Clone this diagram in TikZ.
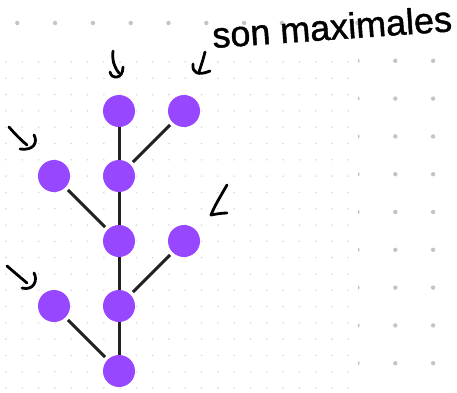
\documentclass[tikz,border=0pt]{standalone}
\usepackage{fontspec}
\setmainfont{Liberation Sans}
\definecolor{nodepurple}{HTML}{9747FF}
\definecolor{edgegray}{HTML}{222222}
\definecolor{dotbig}{HTML}{C4C4C4}
\definecolor{dotsmall}{HTML}{DADADA}
\begin{document}
\begin{tikzpicture}[x=1pt,y=-1pt,
  vert/.style={circle,fill=nodepurple,minimum size=32pt,inner sep=0pt},
  edge/.style={line width=3pt,draw=edgegray},
  slant/.style={edge,shorten <=3.5pt,shorten >=3.5pt},
  ink/.style={line width=2.8pt,line cap=round,line join=round,draw=black},
  label/.style={anchor=base west,inner sep=0pt,
    font=\fontsize{36}{36}\selectfont\addfontfeatures{FakeBold=1.2}}]
\useasboundingbox (0,0) rectangle (457,392);
\fill[white] (0,0) rectangle (457,392);
% coarse dot grid
\foreach \i in {0,...,9} \fill[dotbig] (17.3+37.8*\i,23) circle (2.2pt);
\foreach \i in {9,10,11} \foreach \j in {1,...,9}
  \fill[dotbig] (17.3+37.8*\i,23+37.8*\j) circle (2.2pt);
% fine dot panel
\fill[white] (0,54) rectangle (357.5,392);
\foreach \i in {0,...,21} \foreach \j in {0,...,20}
  \fill[dotsmall] (6+16.3*\i,62+16.3*\j) circle (0.9pt);
% vertices
\node[vert] (t1) at (119,111) {};
\node[vert] (t2) at (184,111) {};
\node[vert] (m1) at (54,176) {};
\node[vert] (m2) at (119,176) {};
\node[vert] (c1) at (119,241) {};
\node[vert] (c2) at (184,241) {};
\node[vert] (l1) at (54,306) {};
\node[vert] (l2) at (119,306) {};
\node[vert] (r) at (119,371) {};
% edges
\draw[edge] (t1) -- (m2);
\draw[slant] (t2) -- (m2);
\draw[edge] (m2) -- (c1);
\draw[slant] (m1) -- (c1);
\draw[edge] (c1) -- (l2);
\draw[slant] (c2) -- (l2);
\draw[edge] (l2) -- (r);
\draw[slant] (l1) -- (r);
% handwritten pointers
\draw[ink] (113,51) .. controls (112,60) and (114,67) .. (119,73);
\draw[ink] (110,72) .. controls (111,79) and (123,80) .. (123,67);
\draw[ink] (205,52) .. controls (203,60) and (201,66) .. (199,72);
\draw[ink] (193,64) .. controls (192,73) and (198,76) .. (210,71);
\draw[ink] (9,127) .. controls (15,134) and (21,140) .. (27,145);
\draw[ink] (34,135) .. controls (38,142) and (34,151) .. (20,149);
\draw[ink] (227,185) .. controls (220,197) and (214,207) .. (211,215) .. controls (216,214) and (222,213) .. (227,213);
\draw[ink] (7,266) .. controls (14,272) and (21,278) .. (27,283);
\draw[ink] (34,273) .. controls (38,280) and (34,291) .. (22,288);
\node[label,rotate=4] (note) at (213,48) {son maximales};
\end{tikzpicture}
\end{document}
